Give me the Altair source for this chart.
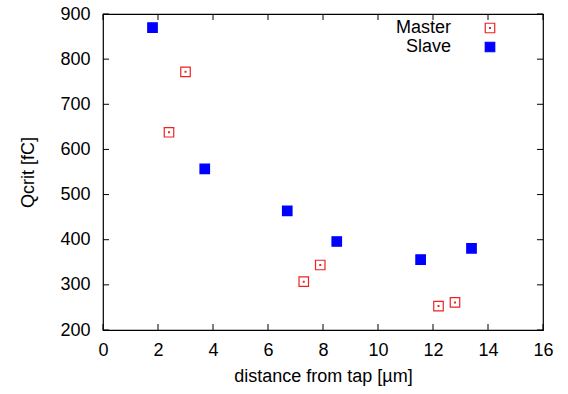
import altair as alt
import pandas as pd

master_x = [2.4, 3.0, 7.3, 7.9, 12.2, 12.8]
master_y = [638, 772, 307, 344, 253, 261]
slave_x = [1.8, 3.7, 6.7, 8.5, 11.55, 13.4]
slave_y = [870, 557, 464, 396, 356, 381]
x_ticks = [0, 2, 4, 6, 8, 10, 12, 14, 16]
y_ticks = [200, 300, 400, 500, 600, 700, 800, 900]
series_names = ["Master", "Slave"]

df = pd.DataFrame(
    {"x": master_x + slave_x,
     "y": master_y + slave_y,
     "series": ["Master"] * len(master_x) + ["Slave"] * len(slave_x)}
)

W, H = 440, 316
FONT = "Liberation Sans"
FS = 18
xs = alt.Scale(domain=[0, 16], nice=False, zero=False)
ys = alt.Scale(domain=[200, 900], nice=False, zero=False)

hollow = "M-1,-1H1V1H-1Z M-0.08,-0.08H0.08V0.08H-0.08Z"
shape_scale = alt.Scale(domain=series_names, range=[hollow, "square"])
fill_scale = alt.Scale(domain=series_names, range=["transparent", "#0000ff"])
stroke_scale = alt.Scale(domain=series_names, range=["#ee2222", "#0000ff"])
SYM = 90

axis_text = dict(labelFont=FONT, titleFont=FONT, labelFontSize=FS, titleFontSize=FS,
                 labelColor="black", titleColor="black", titleFontWeight="normal",
                 tickSize=0, grid=False, domain=False, labelFlush=False)

pts = alt.Chart(df).mark_point(strokeWidth=1.2, opacity=1).encode(
    x=alt.X("x:Q", scale=xs,
            axis=alt.Axis(values=x_ticks, title="distance from tap [µm]",
                          labelPadding=11, titlePadding=8, **axis_text)),
    y=alt.Y("y:Q", scale=ys,
            axis=alt.Axis(values=y_ticks, title="Qcrit [fC]",
                          labelPadding=13, titlePadding=22, **axis_text)),
    shape=alt.Shape("series:N", scale=shape_scale, legend=None),
    fill=alt.Fill("series:N", scale=fill_scale, legend=None),
    stroke=alt.Stroke("series:N", scale=stroke_scale, legend=None),
    size=alt.value(SYM),
)

# manual gnuplot-style legend (label left, symbol right)
leg = pd.DataFrame({"series": series_names, "row": [0, 1]})
leg_base = alt.Chart(leg).transform_calculate(ly="14 + 19 * datum.row")
leg_text = leg_base.mark_text(align="right", baseline="middle", font=FONT, fontSize=FS,
                              color="black").encode(
    x=alt.value(348), y=alt.Y("ly:Q", scale=None), text="series:N")
leg_sym = leg_base.mark_point(strokeWidth=1.2, opacity=1).encode(
    x=alt.value(387), y=alt.Y("ly:Q", scale=None),
    shape=alt.Shape("series:N", scale=shape_scale, legend=None),
    fill=alt.Fill("series:N", scale=fill_scale, legend=None),
    stroke=alt.Stroke("series:N", scale=stroke_scale, legend=None),
    size=alt.value(SYM),
)

xt = pd.DataFrame({"t": x_ticks})
yt = pd.DataFrame({"t": y_ticks})
tick_style = dict(color="black", strokeWidth=1)
xb = alt.Chart(xt).mark_rule(**tick_style).encode(x=alt.X("t:Q", scale=xs), y=alt.value(H), y2=alt.value(H - 6))
xtop = alt.Chart(xt).mark_rule(**tick_style).encode(x=alt.X("t:Q", scale=xs), y=alt.value(0), y2=alt.value(6))
yl = alt.Chart(yt).mark_rule(**tick_style).encode(y=alt.Y("t:Q", scale=ys), x=alt.value(0), x2=alt.value(6))
yr = alt.Chart(yt).mark_rule(**tick_style).encode(y=alt.Y("t:Q", scale=ys), x=alt.value(W), x2=alt.value(W - 6))

chart = alt.layer(pts, xb, xtop, yl, yr, leg_text, leg_sym).properties(
    width=W, height=H,
    background="white",
    autosize=alt.AutoSizeParams(type="none"),
    padding={"left": 103, "top": 14, "right": 25, "bottom": 64},
).configure_view(stroke="black", strokeWidth=1.2)

chart.save("out.html", embed_options={"renderer": "svg", "actions": False})
